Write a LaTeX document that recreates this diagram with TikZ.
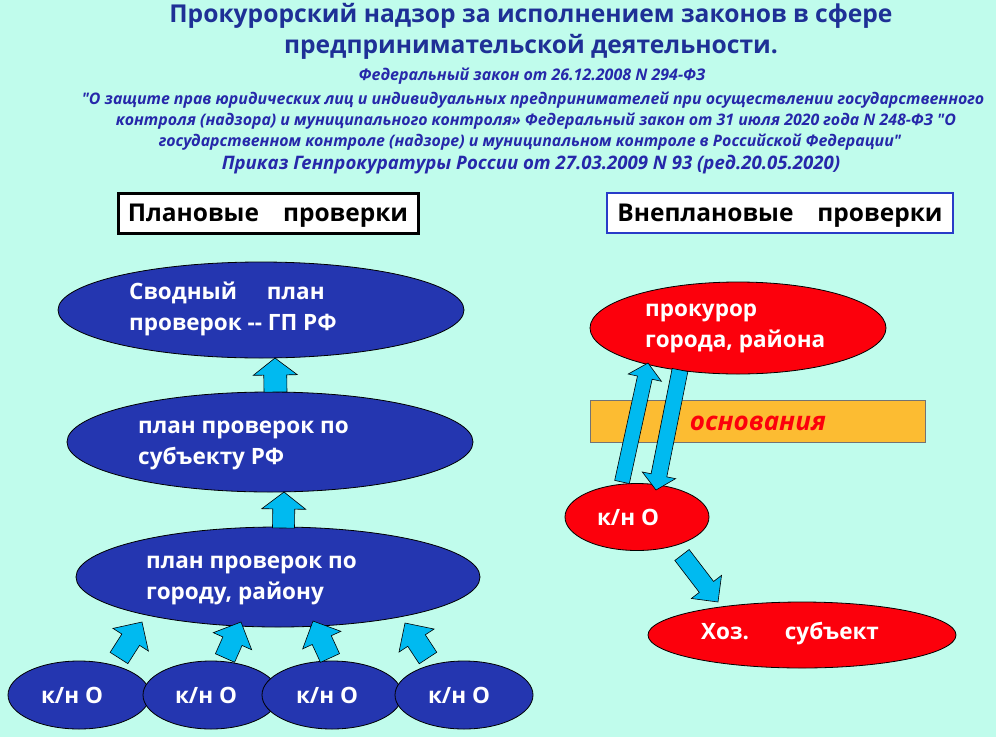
\documentclass[tikz,border=0pt]{standalone}
\usepackage{fontspec}
\setmainfont{Open Sans}[Ligatures=TeXOff]
\usetikzlibrary{shapes.geometric,calc}
\definecolor{bgmint}{RGB}{192,252,236}
\definecolor{ellblue}{RGB}{36,54,176}
\definecolor{ellred}{RGB}{252,0,12}
\definecolor{arrcyan}{RGB}{0,186,240}
\definecolor{barorange}{RGB}{252,188,50}
\definecolor{titleblue}{RGB}{30,48,150}
\definecolor{subblue}{RGB}{38,40,170}
\definecolor{boxblue}{RGB}{40,60,200}
\newcommand\blockarrow[5]{%
  \coordinate (bah) at ($(#2)!#5!(#1)$);
  \draw[arr] ($(#1)!#3!90:(#2)$) -- ($(bah)!#3!90:(#2)$) -- ($(bah)!#4!90:(#2)$) -- (#2)
    -- ($(bah)!#4!-90:(#2)$) -- ($(bah)!#3!-90:(#2)$) -- ($(#1)!#3!-90:(#2)$) -- cycle;
}
\begin{document}
\begin{tikzpicture}[x=1pt,y=-1pt,
  ell/.style={ellipse, draw=black, line width=0.8pt, inner sep=0pt},
  blueell/.style={ell, fill=ellblue},
  redell/.style={ell, fill=ellred},
  etext/.style={text=white, font=\fontsize{22.5}{31}\selectfont\bfseries, align=left, anchor=west, inner sep=0pt},
  ktext/.style={text=white, font=\fontsize{22.5}{31}\selectfont\bfseries},
  arr/.style={fill=arrcyan, draw=black, line width=0.6pt, line join=miter},
  titletext/.style={text=titleblue, font=\fontsize{24.6}{30}\selectfont\bfseries, inner sep=0pt},
  subtext/.style={text=subblue, font=\fontsize{15.9}{18}\selectfont\bfseries\itshape, inner sep=0pt},
  headbox/.style={draw, fill=white, minimum height=40pt, text height=17.5pt, text depth=0pt, font=\fontsize{24.5}{28}\selectfont\bfseries, inner sep=0pt}
]
\fill[bgmint] (0,0) rectangle (996,737);
\useasboundingbox (0,0) rectangle (996,737);

% titles
\node[titletext] (t1) at (531,16) {Прокурорский надзор за исполнением законов в сфере};
\node[titletext] (t2) at (531,47) {предпринимательской деятельности.};
\node[subtext, font=\fontsize{16}{18}\selectfont\bfseries\itshape] (s1) at (532,76) {Федеральный закон от 26.12.2008 N 294-ФЗ};
\node[subtext] (s2) at (533,100) {"О защите прав юридических лиц и индивидуальных предпринимателей при осуществлении государственного};
\node[subtext] (s3) at (536,121) {контроля (надзора) и муниципального контроля» Федеральный закон от 31 июля 2020 года N 248-ФЗ "О};
\node[subtext] (s4) at (530,142) {государственном контроле (надзоре) и муниципальном контроле в Российской Федерации"};
\node[subtext, font=\fontsize{18.6}{22}\selectfont\bfseries\itshape] (s5) at (531,165) {Приказ Генпрокуратуры России от 27.03.2009 N 93 (ред.20.05.2020)};

% header boxes
\node[headbox, draw=black, line width=3pt, minimum width=300pt] (h1) at (268,213) {Плановые\hspace{24pt}проверки};
\node[headbox, draw=boxblue, line width=2.5pt, minimum width=346pt] (h2) at (780,213) {Внеплановые\hspace{24pt}проверки};

% left chain
\node[blueell, minimum width=406pt, minimum height=96pt] (e1) at (261,310) {};
\node[etext] (e1t) at (129,309) {Сводный\hspace{30pt}план\\проверок --\ ГП РФ};
\node[blueell, minimum width=406pt, minimum height=100pt] (e2) at (270,442) {};
\node[etext] (e2t) at (138,445) {план проверок по\\субъекту РФ};
\node[blueell, minimum width=404pt, minimum height=100pt] (e3) at (278,577) {};
\node[etext] (e3t) at (146,580) {план проверок по\\городу,\hspace{6pt}району};

\node[blueell, minimum width=142pt, minimum height=68pt] (k1) at (79,695) {};
\node[ktext] (k1t) at (72,695) {к/н О};
\node[blueell, minimum width=136pt, minimum height=68pt] (k2) at (211,695) {};
\node[ktext] (k2t) at (206,695) {к/н О};
\node[blueell, minimum width=140pt, minimum height=68pt] (k3) at (332,695) {};
\node[ktext] (k3t) at (327,695) {к/н О};
\node[blueell, minimum width=138pt, minimum height=68pt] (k4) at (464,695) {};
\node[ktext] (k4t) at (459,695) {к/н О};

% left arrows
\coordinate (a1s) at (275.5,392); \coordinate (a1e) at (275,358);
\blockarrow{a1s}{a1e}{11.5pt}{22pt}{17pt}
\coordinate (a2s) at (283.5,528); \coordinate (a2e) at (284,492);
\blockarrow{a2s}{a2e}{11pt}{22pt}{17pt}
\coordinate (b1s) at (119,658); \coordinate (b1e) at (142,622);
\blockarrow{b1s}{b1e}{10.5pt}{21pt}{21pt}
\coordinate (b2s) at (225,658); \coordinate (b2e) at (241,622);
\blockarrow{b2s}{b2e}{10.5pt}{21pt}{21pt}
\coordinate (b3s) at (330,658); \coordinate (b3e) at (313,621);
\blockarrow{b3s}{b3e}{10.5pt}{21pt}{21pt}
\coordinate (b4s) at (428,658); \coordinate (b4e) at (405,623);
\blockarrow{b4s}{b4e}{10.5pt}{21pt}{21pt}

% right side
\node[draw=black!55, line width=0.5pt, fill=barorange, minimum width=335pt, minimum height=42pt, inner sep=0pt] (bar) at (757.5,421) {};
\node[redell, minimum width=296pt, minimum height=92pt] (p) at (738,328) {};
\node[etext] (pt) at (645,328) {прокурор\\города,\hspace{6pt}района};
\node[text=ellred, font=\fontsize{26}{28}\selectfont\bfseries\itshape, inner sep=0pt] (bart) at (758,423) {основания};
\node[redell, minimum width=144pt, minimum height=67pt] (r1) at (637,517) {};
\node[ktext] (r1t) at (628,517) {к/н О};
\node[redell, minimum width=308pt, minimum height=66pt] (hz) at (802,635) {};
\node[ktext] (hzt) at (790,634) {Хоз.\hspace{36pt}субъект};

\coordinate (c1s) at (622,482); \coordinate (c1e) at (648,363);
\blockarrow{c1s}{c1e}{7.5pt}{17pt}{15pt}
\coordinate (c2s) at (680,370); \coordinate (c2e) at (656,490);
\blockarrow{c2s}{c2e}{8pt}{17pt}{15pt}
\coordinate (c3s) at (682,555); \coordinate (c3e) at (718,602);
\blockarrow{c3s}{c3e}{9pt}{19pt}{19pt}
\end{tikzpicture}
\end{document}
